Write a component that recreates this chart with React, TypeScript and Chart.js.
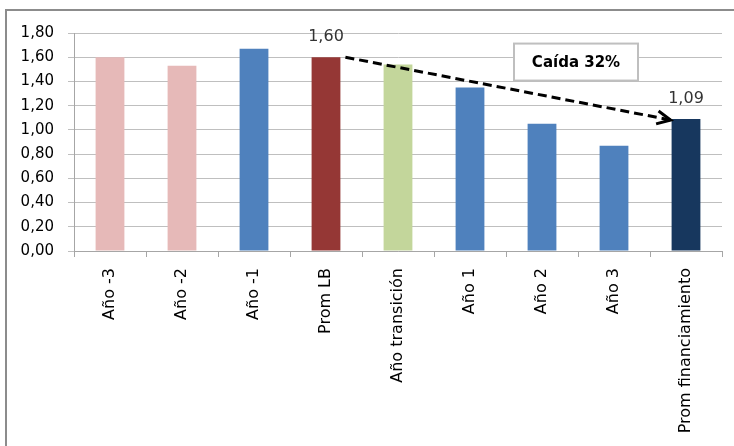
import React, { useEffect, useRef } from "react";
import { Chart, registerables } from "chart.js";

Chart.register(...registerables);

const categories = [
  "Año -3",
  "Año -2",
  "Año -1",
  "Prom LB",
  "Año transición",
  "Año 1",
  "Año 2",
  "Año 3",
  "Prom financiamiento",
];
const values = [1.6, 1.53, 1.67, 1.6, 1.54, 1.35, 1.05, 0.87, 1.09];
const barColors = [
  "#E6B9B8",
  "#E6B9B8",
  "#4F81BD",
  "#953735",
  "#C3D69B",
  "#4F81BD",
  "#4F81BD",
  "#4F81BD",
  "#17375E",
];
const labelledIndexes = [3, 8];
const arrowFrom = 3;
const arrowTo = 8;
const boxText = "Caída 32%";

const fmt = (v: number) => v.toFixed(2).replace(".", ",");

const overlayPlugin = {
  id: "overlay",
  afterDatasetsDraw(chart: any) {
    const ctx = chart.ctx;
    const meta = chart.getDatasetMeta(0);
    const y = chart.scales.y;
    const x = chart.scales.x;
    ctx.save();
    // data labels
    ctx.fillStyle = "#333";
    ctx.font = "16px 'DejaVu Sans'";
    ctx.textAlign = "center";
    ctx.textBaseline = "bottom";
    labelledIndexes.forEach((i) => {
      const el = meta.data[i];
      ctx.fillText(fmt(values[i]), el.x, el.y - 12);
    });
    // arrow
    const a = meta.data[arrowFrom];
    const b = meta.data[arrowTo];
    const x1 = a.x + a.width / 2 + 5;
    const y1 = y.getPixelForValue(values[arrowFrom]);
    const x2 = b.x - b.width / 2 - 1;
    const y2 = y.getPixelForValue(values[arrowTo]) + 1;
    ctx.strokeStyle = "#000";
    ctx.lineWidth = 3;
    ctx.setLineDash([9, 5]);
    ctx.beginPath();
    ctx.moveTo(x1, y1);
    ctx.lineTo(x2, y2);
    ctx.stroke();
    ctx.setLineDash([]);
    const ang = Math.atan2(y2 - y1, x2 - x1);
    const hl = 15;
    ctx.beginPath();
    ctx.moveTo(x2 + hl * Math.cos(ang + Math.PI - 0.45), y2 + hl * Math.sin(ang + Math.PI - 0.45));
    ctx.lineTo(x2, y2);
    ctx.lineTo(x2 + hl * Math.cos(ang + Math.PI + 0.45), y2 + hl * Math.sin(ang + Math.PI + 0.45));
    ctx.stroke();
    // box
    const cx = (x.getPixelForValue(6) + x.getPixelForValue(7)) / 2 - 2;
    const cy = y.getPixelForValue(1.56);
    const bw = 124;
    const bh = 37;
    ctx.fillStyle = "#fff";
    ctx.fillRect(cx - bw / 2, cy - bh / 2, bw, bh);
    ctx.strokeStyle = "#BFBFBF";
    ctx.lineWidth = 2;
    ctx.strokeRect(cx - bw / 2, cy - bh / 2, bw, bh);
    ctx.fillStyle = "#000";
    ctx.font = "bold 15px 'DejaVu Sans'";
    ctx.textBaseline = "middle";
    ctx.fillText(boxText, cx, cy + 1);
    ctx.restore();
  },
};

export default function App() {
  const ref = useRef<HTMLCanvasElement>(null);
  useEffect(() => {
    document.body.style.margin = "0";
    const chart = new Chart(ref.current!, {
      type: "bar",
      data: {
        labels: categories,
        datasets: [
          {
            data: values,
            backgroundColor: barColors,
            borderWidth: 0,
            barPercentage: 0.4,
            categoryPercentage: 1,
          },
        ],
      },
      options: {
        animation: false,
        responsive: false,
        layout: { padding: { top: 33, right: 12, left: 0, bottom: 0 } },
        plugins: { legend: { display: false }, tooltip: { enabled: false } },
        scales: {
          y: {
            min: 0,
            max: 1.8,
            ticks: {
              stepSize: 0.2,
              color: "#000",
              font: { family: "'DejaVu Sans'", size: 15 },
              padding: 14,
              callback: (v: any) => fmt(Number(v)),
            },
            grid: { color: "#BFBFBF", tickLength: 6, lineWidth: 1 },
            border: { color: "#A6A6A6", width: 1 },
            afterFit: (s: any) => {
              s.width = 74;
            },
          },
          x: {
            ticks: {
              color: "#000",
              font: { family: "'DejaVu Sans'", size: 16 },
              minRotation: 90,
              maxRotation: 90,
              autoSkip: false,
              padding: 11,
            },
            grid: { display: true, drawOnChartArea: false, color: "#A6A6A6", tickLength: 6, offset: true },
            border: { color: "#A6A6A6", width: 1 },
            afterFit: (s: any) => {
              s.height = 195;
            },
          },
        },
      },
      plugins: [overlayPlugin],
    });
    return () => chart.destroy();
  }, []);
  return (
    <div style={{ position: "relative", width: 734, height: 446, overflow: "hidden", background: "#fff" }}>
      <canvas ref={ref} width={734} height={446} style={{ position: "absolute", left: 0, top: 0 }} />
      <div
        style={{
          position: "absolute",
          left: 5,
          top: 9,
          width: 740,
          height: 460,
          borderTop: "2px solid #8C8C8C",
          borderLeft: "2px solid #8C8C8C",
          pointerEvents: "none",
        }}
      />
    </div>
  );
}
